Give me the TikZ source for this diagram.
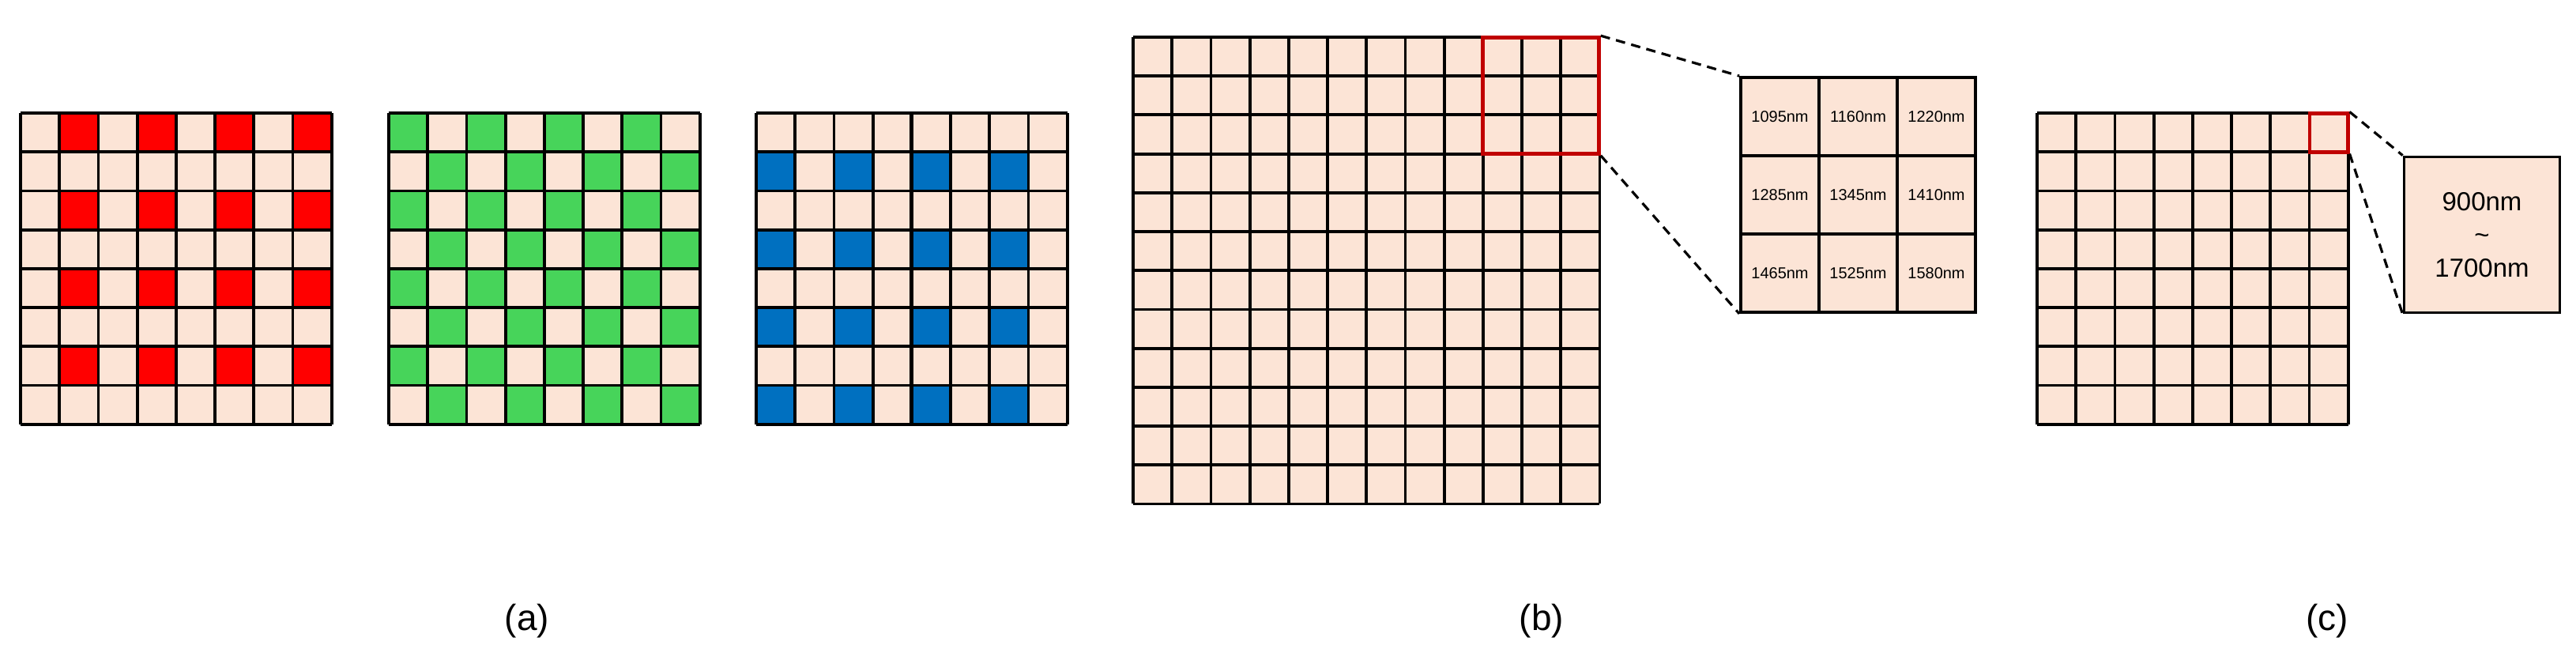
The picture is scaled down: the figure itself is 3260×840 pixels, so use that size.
\documentclass[tikz,border=0pt]{standalone}
\usepackage{fontspec}
\setmainfont{Liberation Sans}

\definecolor{peach}{HTML}{FCE4D6}
\definecolor{pixred}{HTML}{FF0000}
\definecolor{pixgreen}{HTML}{47D45A}
\definecolor{pixblue}{HTML}{0070C0}
\definecolor{selred}{HTML}{C00000}

\begin{document}
\begin{tikzpicture}[x=0.5pt, y=-0.5pt,
    gridline/.style={line width=1.9pt},
    selbox/.style={draw=selred, line width=2.3pt, inner sep=0pt, minimum size=#1},
    zoomline/.style={line width=1.6pt, dash pattern=on 6pt off 4pt},
    bandcell/.style={draw, fill=peach, line width=1.9pt, inner sep=0pt, minimum size=49.5pt,
                     font=\fontsize{10}{12}\selectfont},
    caption/.style={font=\fontsize{23}{27}\selectfont}]
    \useasboundingbox (0,0) rectangle (3260,840);

    % (a) red filter: 8x8, origin (26,143)
    \begin{scope}[shift={(26,143)}]
      \fill[peach] (0,0) rectangle (393.6,393.6);
      \foreach \r in {0,2,4,6}
        \foreach \c in {1,3,5,7}
          \fill[pixred] (\c*49.2,\r*49.2) rectangle ++(49.2,49.2);
      \foreach \k in {0,...,8} {
        \draw[gridline] (\k*49.2,0) -- (\k*49.2,393.6);
        \draw[gridline] (0,\k*49.2) -- (393.6,\k*49.2);
      }
    \end{scope}

    % (a) green filter
    \begin{scope}[shift={(492,143)}]
      \fill[peach] (0,0) rectangle (393.6,393.6);
      \foreach \r in {0,2,4,6}
        \foreach \c in {0,2,4,6} {
          \fill[pixgreen] (\c*49.2,\r*49.2) rectangle ++(49.2,49.2);
          \fill[pixgreen] (\c*49.2+49.2,\r*49.2+49.2) rectangle ++(49.2,49.2);
        }
      \foreach \k in {0,...,8} {
        \draw[gridline] (\k*49.2,0) -- (\k*49.2,393.6);
        \draw[gridline] (0,\k*49.2) -- (393.6,\k*49.2);
      }
    \end{scope}

    % (a) blue filter
    \begin{scope}[shift={(957,143)}]
      \fill[peach] (0,0) rectangle (393.6,393.6);
      \foreach \r in {1,3,5,7}
        \foreach \c in {0,2,4,6}
          \fill[pixblue] (\c*49.2,\r*49.2) rectangle ++(49.2,49.2);
      \foreach \k in {0,...,8} {
        \draw[gridline] (\k*49.2,0) -- (\k*49.2,393.6);
        \draw[gridline] (0,\k*49.2) -- (393.6,\k*49.2);
      }
      \draw[line width=2.4pt] (4*49.2,0) -- (4*49.2,393.6);
    \end{scope}

    % (b) 12x12 array
    \begin{scope}[shift={(1434,47)}]
      \fill[peach] (0,0) rectangle (590.4,590.4);
      \foreach \k in {0,...,12} {
        \draw[gridline] (\k*49.2,0) -- (\k*49.2,590.4);
        \draw[gridline] (0,\k*49.2) -- (590.4,\k*49.2);
      }
    \end{scope}
    \node[selbox=73.5pt] (bsel) at (1950,121) {};

    % (b) zoomed 3x3 block
    \foreach \i/\a/\b/\c in {1/1095/1160/1220, 2/1285/1345/1410, 3/1465/1525/1580} {
      \node[bandcell] (bz-\i-1) at (2252.5,48.5+\i*99) {\a nm};
      \node[bandcell] (bz-\i-2) at (2351.5,48.5+\i*99) {\b nm};
      \node[bandcell] (bz-\i-3) at (2450.5,48.5+\i*99) {\c nm};
    }
    \draw[zoomline] (bsel.north east) -- (bz-1-1.north west);
    \draw[zoomline] (bsel.south east) -- (bz-3-1.south west);

    % (c) 8x8 array
    \begin{scope}[shift={(2578,143)}]
      \fill[peach] (0,0) rectangle (393.6,393.6);
      \foreach \k in {0,...,8} {
        \draw[gridline] (\k*49.2,0) -- (\k*49.2,393.6);
        \draw[gridline] (0,\k*49.2) -- (393.6,\k*49.2);
      }
    \end{scope}
    \node[selbox=24.2pt] (csel) at (2947,168) {};
    \node[draw, fill=peach, line width=1.9pt, minimum size=98.5pt, align=center,
          font=\fontsize{16.5}{21}\selectfont] (czoom) at (3141,297) {900nm\\\~{}\\1700nm};
    \draw[zoomline] (csel.north east) -- (czoom.north west);
    \draw[zoomline] (csel.south east) -- (czoom.south west);

    % captions
    \node[caption] (capa) at (667,786) {(a)};
    \node[caption] (capb) at (1951,786) {(b)};
    \node[caption] (capc) at (2945,786) {(c)};
\end{tikzpicture}
\end{document}
